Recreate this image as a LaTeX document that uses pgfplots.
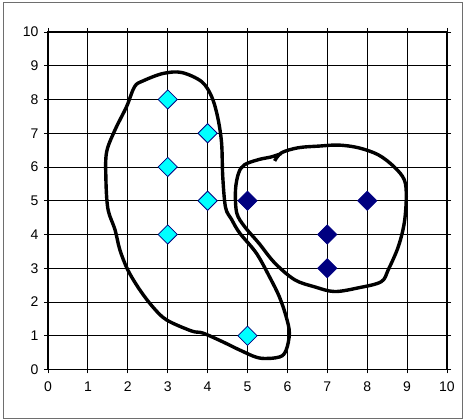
\documentclass[border=0pt]{standalone}
\usepackage{fontspec}
\setmainfont{Liberation Sans}
\usepackage{pgfplots}
\pgfplotsset{compat=1.18}

\definecolor{navyblue}{RGB}{0,0,128}
\definecolor{aqua}{RGB}{0,255,255}
\definecolor{framegray}{RGB}{110,110,110}

\begin{document}
\begin{tikzpicture}[x=1pt,y=1pt]
    % page size = whole chart area, 464 x 420
    \path[use as bounding box] (-48,-50.5) rectangle (416,369.5);
    \draw[framegray, line width=0.9pt] (-45,-49) rectangle (414.5,367.5);

    \begin{axis}[
        at = {(0,0)}, anchor = south west,
        scale only axis,
        width  = 399pt,
        height = 337.5pt,
        % Axes
        xmin = 0, xmax = 10,
        ymin = 0, ymax = 10,
        xtick = {0,...,10},
        ytick = {0,...,10},
        tick align = outside,
        major tick length = 4pt,
        tick style = {black, line width=0.9pt},
        axis line style = {black, line width=1.8pt},
        % Grid
        grid = major,
        grid style = {black, line width=0.9pt},
        % Labels
        tick label style = {font=\fontsize{14}{16}\selectfont},
        /pgf/number format/assume math mode = true,
        xticklabel style = {yshift=-5pt},
        yticklabel style = {xshift=-2pt},
        clip = false,
    ]

        % hand-drawn outline round the aqua group
        \addplot[black, line width=3.4pt, smooth cycle, tension=0.55] coordinates {
            (3.35,8.80) (3.85,8.53) (4.10,8.09) (4.25,7.49) (4.35,6.72)
            (4.38,5.71) (4.45,4.80) (4.60,4.45) (4.80,4.05) (5.22,3.45)
            (5.55,2.75) (5.80,2.15) (5.97,1.56) (6.05,1.08) (5.97,0.58)
            (5.80,0.37) (5.30,0.34) (4.80,0.58) (4.38,0.82) (3.88,1.08)
            (3.60,1.14) (2.97,1.47) (2.63,1.85) (2.30,2.36) (2.00,2.95)
            (1.80,3.55) (1.68,4.14) (1.50,4.77) (1.45,5.71) (1.47,6.45)
            (1.68,7.10) (1.97,7.79) (2.17,8.38) (2.38,8.55) (2.88,8.77)
        };

        % hand-drawn outline round the navy group
        \addplot[black, line width=3.4pt, smooth, tension=0.55] coordinates {
            (5.68,6.18) (5.85,6.42) (6.27,6.57) (6.80,6.62) (7.28,6.65)
            (7.78,6.57) (8.28,6.36) (8.68,6.00) (8.93,5.62) (8.98,5.12)
            (8.93,4.35) (8.78,3.64) (8.53,2.96) (8.35,2.60) (7.78,2.42)
            (7.18,2.31) (6.68,2.45) (6.18,2.66) (5.68,3.16) (5.28,3.75)
            (4.93,4.23) (4.73,4.64) (4.70,5.33) (4.78,5.83) (4.93,6.07)
            (5.28,6.22) (5.60,6.30) (5.85,6.40)
        };

        % aqua points
        \addplot[only marks, mark=square*, mark size=6.8pt,
            mark options={rotate=45, fill=aqua, draw=navyblue, line width=0.8pt}]
        coordinates {
            (3,8) (4,7) (3,6) (4,5) (3,4) (5,1)
        };

        % navy points
        \addplot[only marks, mark=square*, mark size=6.8pt,
            mark options={rotate=45, fill=navyblue, draw=navyblue, line width=0.8pt}]
        coordinates {
            (5,5) (7,4) (7,3) (8,5)
        };
    \end{axis}
\end{tikzpicture}
\end{document}
